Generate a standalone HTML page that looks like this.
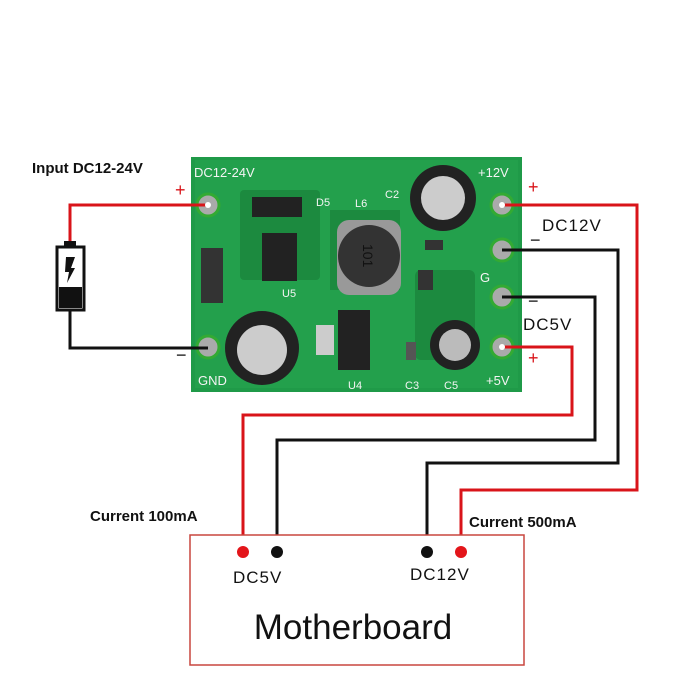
<!DOCTYPE html>
<html><head><style>body{margin:0;background:#fff}svg{display:block}text{font-family:"Liberation Sans",sans-serif}</style></head><body>
<svg width="700" height="700" viewBox="0 0 700 700">
<rect width="700" height="700" fill="#fff"/>
<rect x="191" y="157" width="331" height="235" fill="#1f9a48"/>
<rect x="195" y="160" width="323" height="228" fill="#23a04c"/>
<g fill="#1c8a3f">
<rect x="240" y="190" width="80" height="90" rx="4"/>
<path d="M330 210 h70 v80 h-70z"/>
<rect x="415" y="270" width="60" height="90" rx="6"/>
</g>
<g font-size="13" fill="#f4f4f4">
<text x="194" y="177">DC12-24V</text><text x="478" y="177">+12V</text>
<text x="198" y="385">GND</text><text x="486" y="385">+5V</text>
<text x="480" y="282">G</text><text x="282" y="297" font-size="11">U5</text>
<text x="348" y="389" font-size="11">U4</text><text x="405" y="389" font-size="11">C3</text>
<text x="444" y="389" font-size="11">C5</text><text x="385" y="198" font-size="11">C2</text>
<text x="355" y="207" font-size="11">L6</text><text x="316" y="206" font-size="11">D5</text>
</g>
<g fill="#aaa" stroke="#3a3" stroke-width="3">
<circle cx="208" cy="205" r="11"/><circle cx="208" cy="347" r="11"/>
<circle cx="502" cy="205" r="11"/><circle cx="502" cy="250" r="11"/>
<circle cx="502" cy="297" r="11"/><circle cx="502" cy="347" r="11"/>
</g>
<rect x="252" y="197" width="50" height="20" fill="#222"/>
<rect x="262" y="233" width="35" height="48" fill="#222"/>
<rect x="201" y="248" width="22" height="55" fill="#333"/>
<rect x="337" y="220" width="64" height="75" rx="12" fill="#999"/>
<circle cx="369" cy="256" r="31" fill="#333"/>
<text x="357" y="262" fill="#111" font-size="14" transform="rotate(90 369 256)">101</text>
<circle cx="443" cy="198" r="33" fill="#222"/><circle cx="443" cy="198" r="22" fill="#ccc"/>
<circle cx="262" cy="348" r="37" fill="#222"/><circle cx="262" cy="350" r="25" fill="#ccc"/>
<circle cx="455" cy="345" r="25" fill="#222"/><circle cx="455" cy="345" r="16" fill="#bbb"/>
<rect x="338" y="310" width="32" height="60" fill="#222"/>
<rect x="316" y="325" width="18" height="30" fill="#ccc"/>
<rect x="418" y="270" width="15" height="20" fill="#333"/>
<rect x="425" y="240" width="18" height="10" fill="#333"/>
<rect x="406" y="342" width="10" height="18" fill="#555"/>
<g fill="none" stroke-width="3">
<polyline points="208,205 70,205 70,245" stroke="#d9141a"/>
<polyline points="70,310 70,348 208,348" stroke="#111"/>
<polyline points="502,205 637,205 637,490 461,490 461,552" stroke="#d9141a"/>
<polyline points="502,250 618,250 618,463 427,463 427,552" stroke="#111"/>
<polyline points="502,297 595,297 595,440 277,440 277,552" stroke="#111"/>
<polyline points="502,347 572,347 572,415 243,415 243,552" stroke="#d9141a"/>
</g>
<circle cx="208" cy="205" r="3" fill="#fff"/><circle cx="502" cy="205" r="3" fill="#fff"/><circle cx="502" cy="347" r="3" fill="#fff"/>
<rect x="64" y="241" width="12" height="6" fill="#111"/>
<rect x="57" y="247" width="27" height="63" fill="#fff" stroke="#111" stroke-width="3"/>
<rect x="59" y="287" width="23" height="21" fill="#111"/>
<path d="M66 257 h9 l-4 11 h4 l-8 15 l2 -11 h-4z" fill="#111"/>
<g font-weight="bold" fill="#111" font-size="15">
<text x="32" y="173">Input DC12-24V</text>
<text x="90" y="521">Current 100mA</text>
<text x="469" y="527">Current 500mA</text>
</g>
<g fill="#d9141a" font-size="18"><text x="175" y="196">+</text><text x="528" y="193">+</text><text x="528" y="364">+</text></g>
<g fill="#111" font-size="18"><text x="176" y="361">−</text><text x="530" y="246">−</text><text x="528" y="307">−</text></g>
<g font-size="17" fill="#111" letter-spacing="1"><text x="542" y="231">DC12V</text><text x="523" y="330">DC5V</text></g>
<rect x="190" y="535" width="334" height="130" fill="#fff" stroke="#c8463f" stroke-width="1.5"/>
<circle cx="243" cy="552" r="6" fill="#e3151a"/><circle cx="277" cy="552" r="6" fill="#111"/>
<circle cx="427" cy="552" r="6" fill="#111"/><circle cx="461" cy="552" r="6" fill="#e3151a"/>
<text x="233" y="583" font-size="17" fill="#111" letter-spacing="1">DC5V</text>
<text x="410" y="580" font-size="17" fill="#111" letter-spacing="1">DC12V</text>
<text x="353" y="639" font-size="35" fill="#111" text-anchor="middle">Motherboard</text>
</svg>
</body></html>
